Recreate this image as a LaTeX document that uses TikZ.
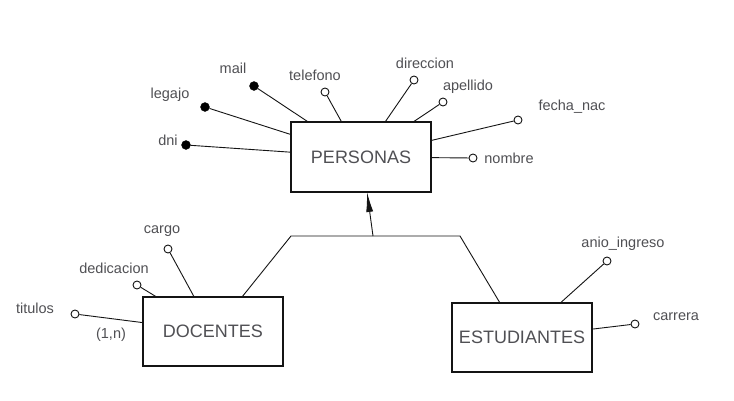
\documentclass[tikz,border=0pt]{standalone}
\usepackage{fontspec}
\setmainfont{Liberation Sans}
\usetikzlibrary{arrows.meta}
\definecolor{txt}{RGB}{80,80,84}
\definecolor{ln}{RGB}{20,20,20}
\begin{document}
\begin{tikzpicture}[x=1pt,y=-1pt,
  entity/.style={draw=ln,line width=1.1pt,rectangle,minimum width=140pt,minimum height=70pt,inner sep=0pt,
    font=\fontsize{18}{20}\selectfont,text=txt},
  attr/.style={draw=ln,line width=0.9pt,circle,minimum size=8pt,inner sep=0pt,fill=white},
  keyattr/.style={draw=ln,circle,minimum size=9pt,inner sep=0pt,fill=black},
  lbl/.style={inner sep=0pt,font=\fontsize{14.5}{16}\selectfont,text=txt},
  conn/.style={draw=ln,line width=0.9pt}]
\useasboundingbox (0,0) rectangle (734,400);
\fill[white] (0,0) rectangle (734,400);

% entities
\node[entity] (personas) at (361,157) {PERSONAS};
\node[entity,minimum height=69pt] (docentes) at (213,331.5) {DOCENTES};
\node[entity,minimum height=69pt] (estudiantes) at (522,337.5) {ESTUDIANTES};

% PERSONAS attributes
\node[keyattr] (mail) at (254,86) {};
\node[keyattr] (legajo) at (205,107) {};
\node[keyattr] (dni) at (186,145) {};
\node[attr] (telefono) at (325,92) {};
\node[attr] (direccion) at (414,80) {};
\node[attr] (apellido) at (443,102) {};
\node[attr] (fechanac) at (518,120) {};
\node[attr] (nombre) at (473,158) {};

\foreach \a in {mail,legajo,dni,telefono,direccion,apellido,fechanac,nombre}
  \draw[conn] (\a) -- (personas);

\node[lbl] (lmail) at (233,68) {mail};
\node[lbl] (llegajo) at (170,95) {legajo};
\node[lbl] (ldni) at (168,140) {dni};
\node[lbl] (ltelefono) at (315,75) {telefono};
\node[lbl] (ldireccion) at (425,63) {direccion};
\node[lbl] (lapellido) at (468,87) {apellido};
\node[lbl] (lfechanac) at (572,107) {fecha\_nac};
\node[lbl] (lnombre) at (509,158) {nombre};

% DOCENTES attributes
\node[attr] (cargo) at (168,249) {};
\node[attr] (dedicacion) at (137,285) {};
\node[attr] (titulos) at (75,314) {};
\foreach \a in {cargo,dedicacion,titulos}
  \draw[conn] (\a) -- (docentes);
\node[lbl] (lcargo) at (162,231) {cargo};
\node[lbl] (ldedicacion) at (114,268) {dedicacion};
\node[lbl] (ltitulos) at (35,308) {titulos};
\node[lbl] (lcard) at (111,335) {(1,n)};

% ESTUDIANTES attributes
\node[attr] (anio) at (607,261) {};
\node[attr] (carrera) at (635,324) {};
\foreach \a in {anio,carrera}
  \draw[conn] (\a) -- (estudiantes);
\node[lbl] (lanio) at (623,244) {anio\_ingreso};
\node[lbl] (lcarrera) at (676,317) {carrera};

% generalization
\coordinate (isal) at (291,236);
\coordinate (isar) at (460,236);
\coordinate (isam) at (373,236);
\coordinate (dtop) at (242,297);
\coordinate (etop) at (500,303);
\coordinate (ptip) at (367,192);
\draw[conn] (dtop) -- (isal) -- (isar) -- (etop);
\draw[conn,-{Latex[length=20pt,width=7pt]}] (isam) -- (ptip);
\end{tikzpicture}
\end{document}
